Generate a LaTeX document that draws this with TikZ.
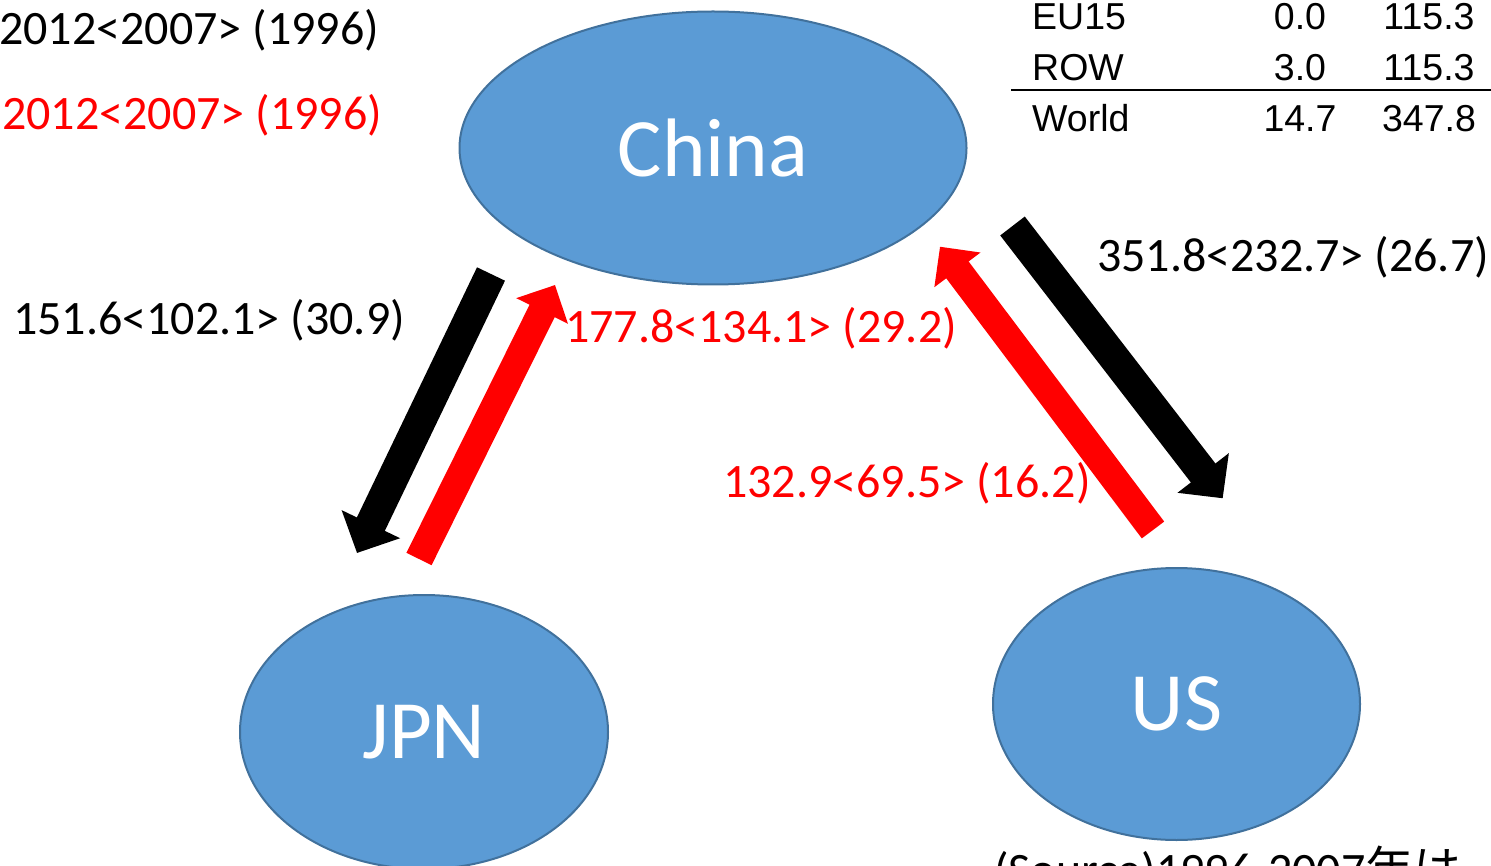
\documentclass[tikz,border=0pt]{standalone}
\usepackage{fontspec}
\setmainfont{Carlito}
\newfontfamily\tablefont{Liberation Sans}
\newfontfamily\cjk{Noto Sans CJK JP}
\usetikzlibrary{shapes.geometric,arrows.meta}
\definecolor{nodeblue}{HTML}{5B9BD5}
\definecolor{nodeline}{HTML}{41719C}

\begin{document}
\begin{tikzpicture}
  [x=1pt,y=-1pt,every node/.style={inner sep=0pt}]
  \tikzstyle{country} = [ellipse,fill=nodeblue,draw=nodeline,line width=2pt,text=white,font=\fontsize{83}{90}\selectfont]
  \tikzstyle{value} = [anchor=base west,font=\fontsize{48}{52}\selectfont]
  \tikzstyle{cell} = [anchor=base,font=\tablefont\fontsize{37.5}{40}\selectfont]
  \tikzstyle{blackflow} = [line width=31pt,-{Triangle[width=63pt,length=32pt]}]
  \tikzstyle{redflow} = [red,line width=28pt,-{Triangle[width=56pt,length=29pt]}]
  \path[use as bounding box,clip] (0,0) rectangle (1491,866);
  % countries
  \node[country,minimum width=507pt,minimum height=273pt] (china) at (713,148) {China};
  \node[country,minimum width=368pt,minimum height=274pt] (jpn) at (424,732) {JPN};
  \node[country,minimum width=367pt,minimum height=272pt] (us) at (1176.5,704) {US};
  % flows
  \coordinate (cj1) at (491,274);
  \coordinate (cj2) at (357,553);
  \coordinate (jc1) at (419,559);
  \coordinate (jc2) at (555,285);
  \coordinate (cu1) at (1012.5,226);
  \coordinate (cu2) at (1222.7,498.3);
  \coordinate (uc1) at (1153,530);
  \coordinate (uc2) at (940,246.7);
  \foreach \source /\dest in {cj1/cj2,cu1/cu2}
   \draw[blackflow] (\source) -- (\dest);
  \foreach \source /\dest in {jc1/jc2,uc1/uc2}
   \draw[redflow] (\source) -- (\dest);
  % labels
  \node[value] (yblack) at (-1,45) {2012<2007> (1996)};
  \node[value,red] (yred) at (2,130) {2012<2007> (1996)};
  \node[value] (vcj) at (13,335) {151.6<102.1> (30.9)};
  \node[value,red] (vjc) at (565,343) {177.8<134.1> (29.2)};
  \node[value] (vcu) at (1097,272) {351.8<232.7> (26.7)};
  \node[value,red] (vuc) at (723,497) {132.9<69.5> (16.2)};
  % table
  \node[cell,anchor=base west] (eu) at (1032,30) {EU15};
  \node[cell] (eua) at (1300,30) {0.0};
  \node[cell] (eub) at (1429,30) {115.3};
  \node[cell,anchor=base west] (row) at (1032,81) {ROW};
  \node[cell] (rowa) at (1300,81) {3.0};
  \node[cell] (rowb) at (1429,81) {115.3};
  \draw[line width=2.5pt] (1011,90) -- (1491,90);
  \node[cell,anchor=base west] (world) at (1032,132) {World};
  \node[cell] (worlda) at (1300,132) {14.7};
  \node[cell] (worldb) at (1429,132) {347.8};
  % source note
  \node[value] (note) at (994,886) {(Source)1996-2007\cjk{年は}};
\end{tikzpicture}
\end{document}
